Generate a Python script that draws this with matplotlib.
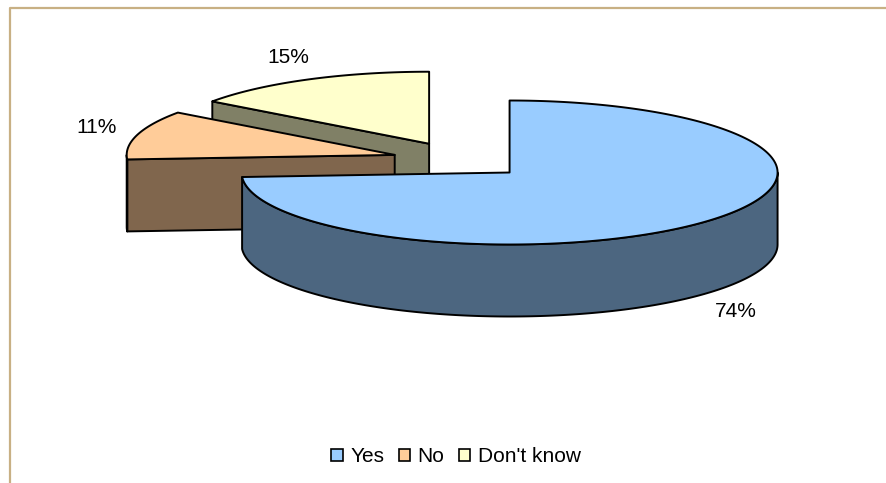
import numpy as np
import matplotlib.pyplot as plt
from matplotlib.patches import Polygon, Patch

plt.rcParams['font.family'] = ['Liberation Sans', 'DejaVu Sans']

labels = ['Yes', 'No', "Don't know"]
values = [74, 11, 15]
top_colors = ['#99CCFF', '#FFCC99', '#FFFFCC']
side_colors = ['#4C6680', '#80664D', '#808066']

# pie geometry (pixel space)
cx, cy = 460, 160        # centre of un-exploded pie
a, b = 268, 72           # ellipse semi axes
depth = 72               # thickness
explode = 68

fig = plt.figure(figsize=(8.87, 4.83), dpi=100)
ax = fig.add_axes([0, 0, 1, 1])
ax.set_xlim(0, 887)
ax.set_ylim(483, 0)
ax.axis('off')

# outer frame (only top and left visible)
ax.plot([10, 10, 887], [483, 8, 8], color='#C8B084', lw=1.6, zorder=0)

def rim(x0, y0, th):
    return x0 + a * np.cos(th), y0 - b * np.sin(th)

fracs = np.array(values) / sum(values)
start = np.pi / 2
slices = []
for f in fracs:
    t2 = start
    t1 = start - f * 2 * np.pi
    slices.append((t1, t2))
    start = t1

lw = 1.4
# draw back slices first, the big one last
order = [2, 1, 0]
for i in order:
    t1, t2 = slices[i]
    mid = (t1 + t2) / 2
    x0 = cx + explode * np.cos(mid)
    y0 = cy - explode * (b / a) * np.sin(mid)

    # radial faces that face the viewer
    for th, nrm in [(t1, t1 - np.pi / 2), (t2, t2 + np.pi / 2)]:
        if np.sin(nrm) < -1e-6:
            rx, ry = rim(x0, y0, th)
            face = [(x0, y0), (rx, ry), (rx, ry + depth), (x0, y0 + depth)]
            ax.add_patch(Polygon(face, closed=True, fc=side_colors[i], ec='black', lw=lw, joinstyle='round'))

    # front outer wall
    for k in range(-2, 2):
        lo = max(t1, -np.pi + 2 * np.pi * k)
        hi = min(t2, 2 * np.pi * k)
        if hi > lo:
            ths = np.linspace(lo, hi, 200)
            xs, ys = rim(x0, y0, ths)
            pts = list(zip(xs, ys)) + list(zip(xs[::-1], ys[::-1] + depth))
            ax.add_patch(Polygon(pts, closed=True, fc=side_colors[i], ec='black', lw=lw, joinstyle='round'))

    # top surface
    ths = np.linspace(t1, t2, 300)
    xs, ys = rim(x0, y0, ths)
    pts = [(x0, y0)] + list(zip(xs, ys))
    ax.add_patch(Polygon(pts, closed=True, fc=top_colors[i], ec='black', lw=lw, joinstyle='round'))

    # percentage label
    lx = x0 + 1.16 * a * np.cos(mid)
    ly = y0 - 1.35 * b * np.sin(mid)
    if np.sin(mid) < 0:
        ly += depth
    ax.text(lx, ly, '%d%%' % values[i], ha='center', va='center', fontsize=15, color='black')

handles = [Patch(fc=top_colors[i], ec='black', lw=1.2) for i in range(3)]
ax.legend(handles, labels, loc='center', bbox_to_anchor=(456 / 887, 1 - 457 / 483), ncol=3,
          frameon=False, fontsize=15, handlelength=0.55, handleheight=0.55,
          handletextpad=0.35, columnspacing=0.7, borderpad=0)

fig.savefig('out.png', dpi=100)
